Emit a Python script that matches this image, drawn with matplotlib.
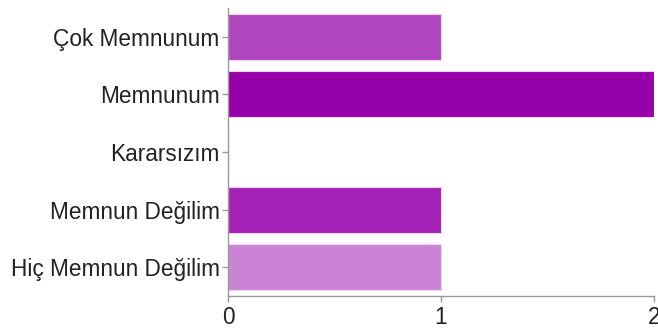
import matplotlib
matplotlib.use("Agg")
import matplotlib.pyplot as plt

categories = ["Çok Memnunum", "Memnunum", "Kararsızım", "Memnun Değilim", "Hiç Memnun Değilim"]
values = [1, 2, 0, 1, 1]
colors = ["#b046be", "#9500a8", "#ffffff", "#a421b5", "#cb84d5"]
xticks = [0, 1, 2]

plt.rcParams['font.family'] = ['Liberation Sans', 'DejaVu Sans']

fig = plt.figure(figsize=(6.58, 3.35), dpi=100)
ax = fig.add_axes([228/658, 1 - 296/335, (654-228)/658, (296-8)/335])

ypos = list(range(len(categories)))
ax.barh(ypos, values, height=0.8, color=colors, edgecolor="#f0d0f4", linewidth=0.8)
ax.set_yticks(ypos)
ax.set_yticklabels(categories, fontsize=16.3, color="#222222")
ax.set_ylim(len(categories) - 0.5, -0.5)
ax.set_xlim(0, 2)
ax.set_xticks(xticks)
ax.set_xticklabels([str(t) for t in xticks], fontsize=16.3, color="#222222")

for s in ["top", "right"]:
    ax.spines[s].set_visible(False)
for s in ["left", "bottom"]:
    ax.spines[s].set_color("#999999")
    ax.spines[s].set_linewidth(1)
ax.tick_params(axis="both", colors="#999999", length=4, width=1, labelcolor="#222222")
ax.tick_params(axis="x", pad=3)
ax.tick_params(axis="y", pad=2)

fig.savefig("out.png", dpi=100)
